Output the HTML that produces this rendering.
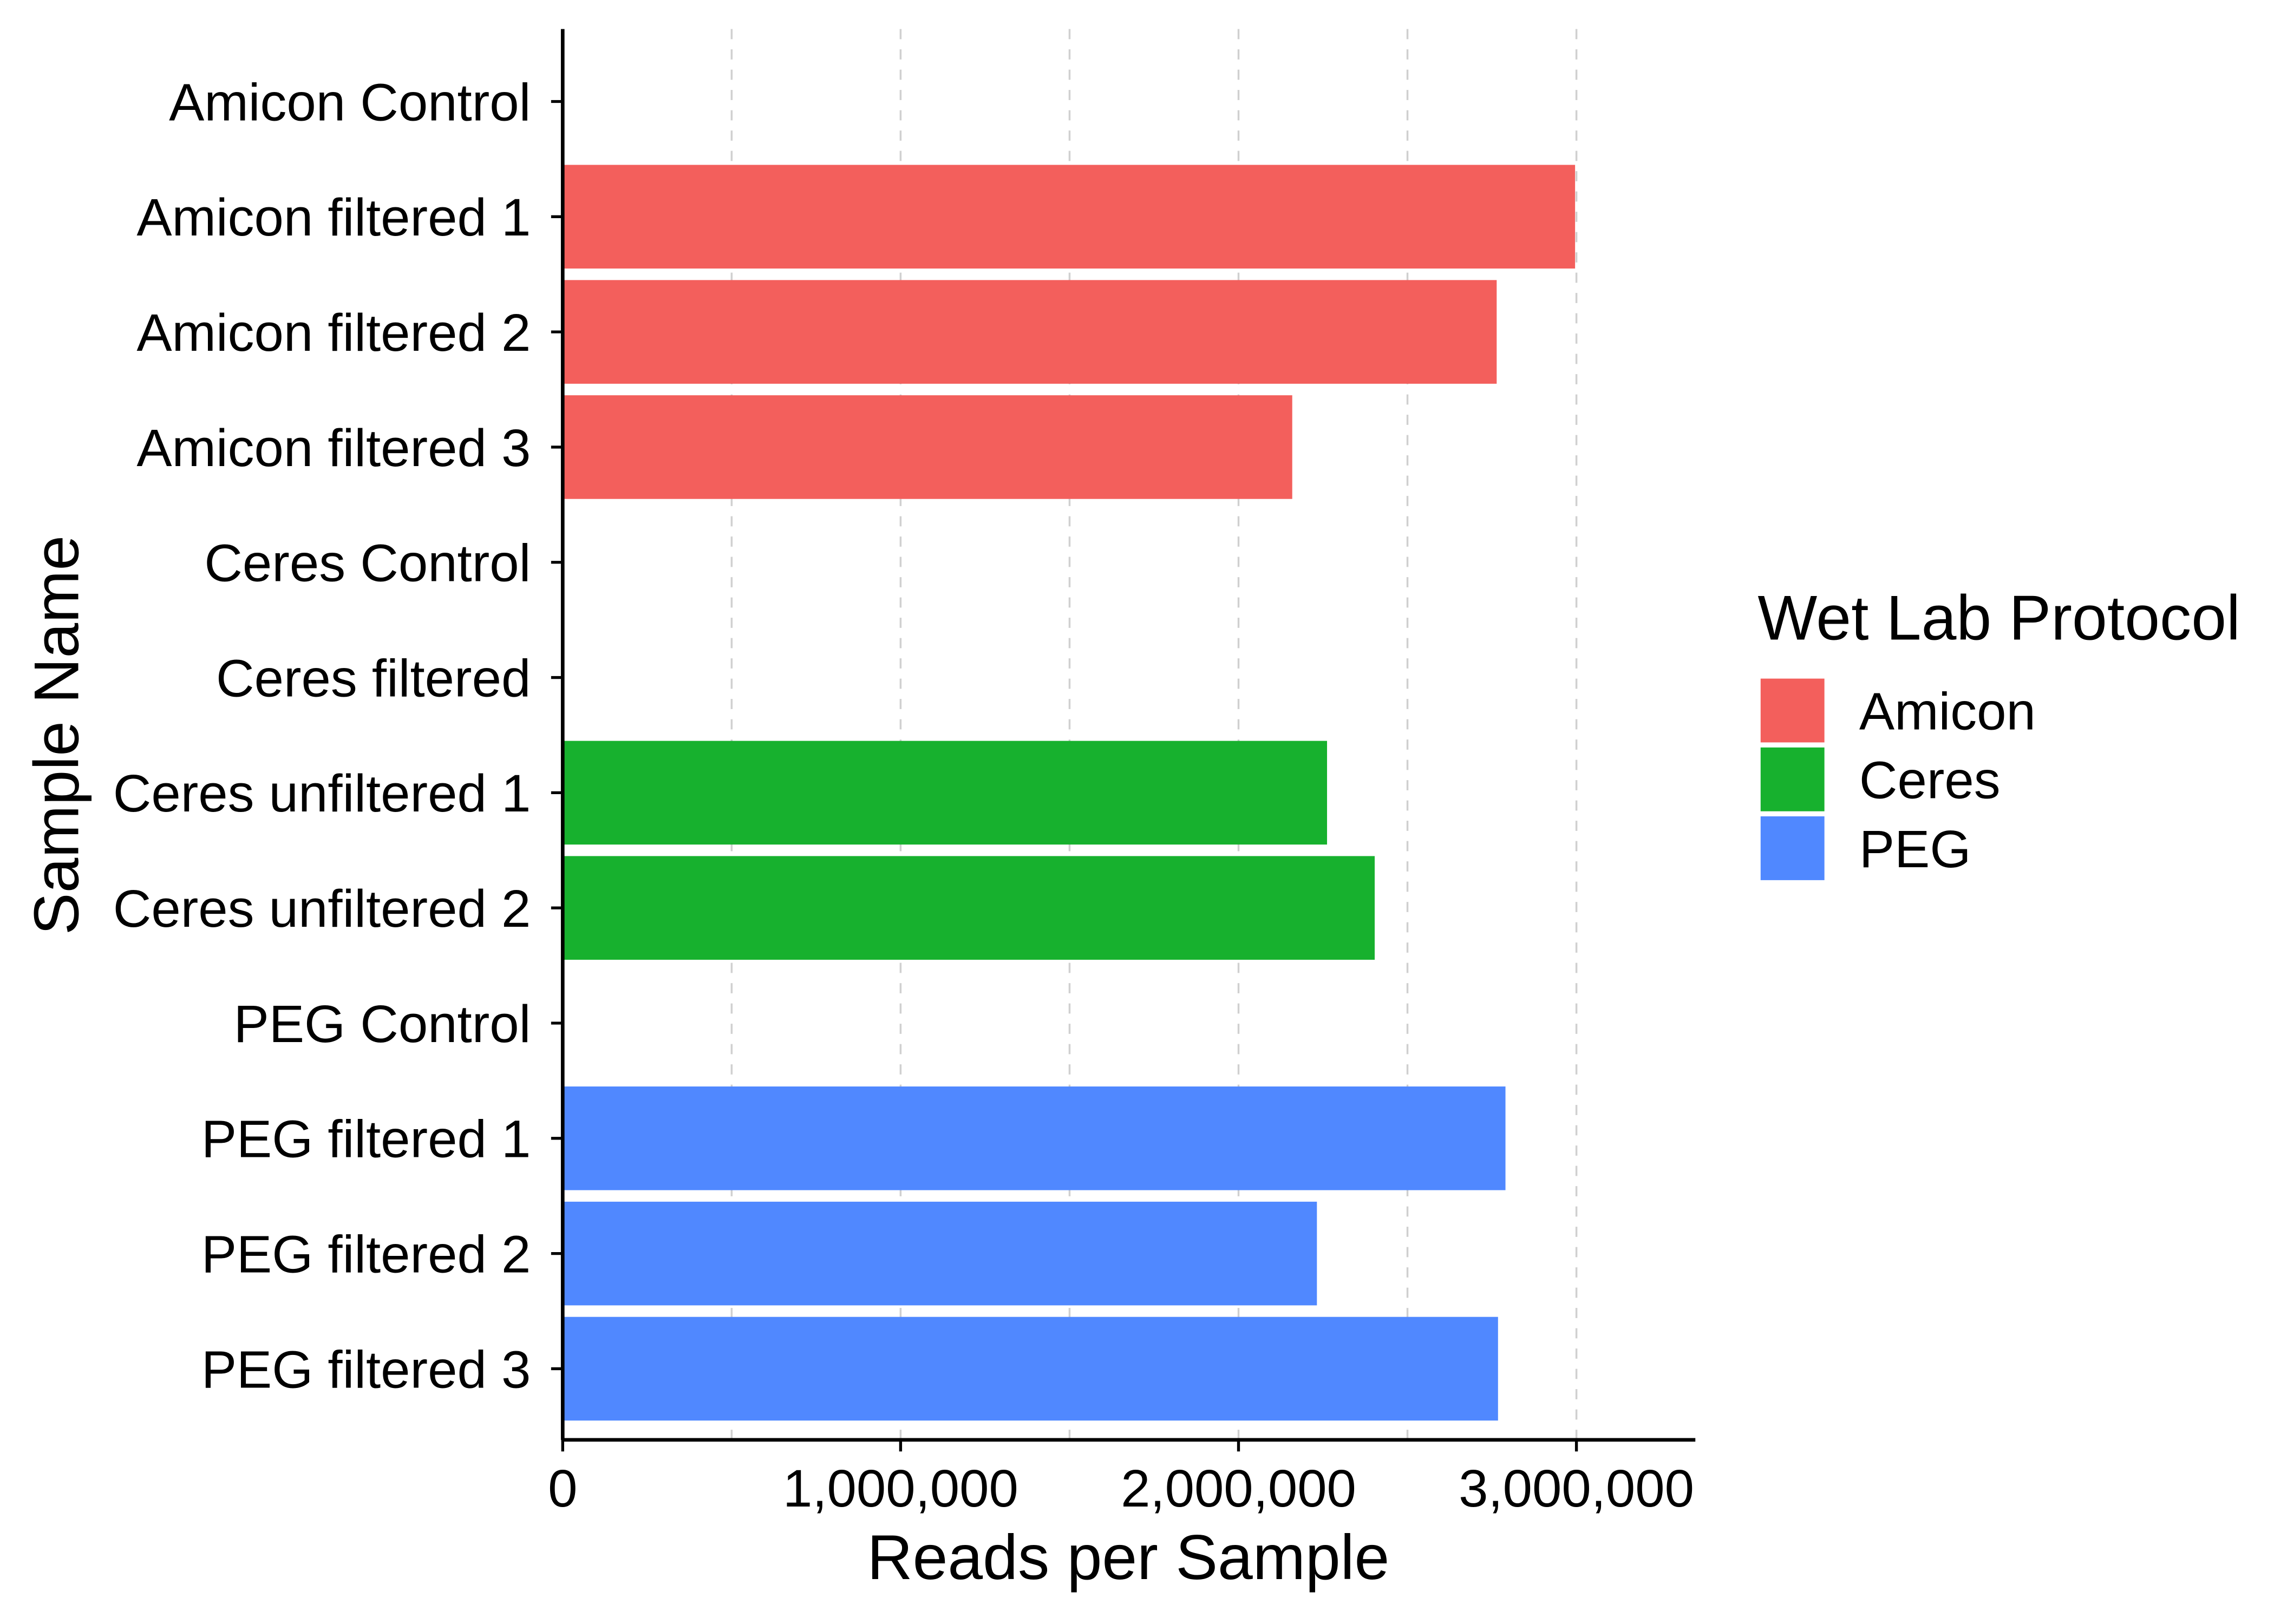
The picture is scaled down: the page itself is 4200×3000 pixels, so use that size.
<!DOCTYPE html>
<html><head><meta charset="utf-8"><style>html,body{margin:0;padding:0;background:#fff}svg{display:block}text{font-family:"Liberation Sans",Arial,sans-serif}</style></head>
<body>
<svg id="chart" width="4200" height="3000" viewBox="0 0 1568 1120" xmlns="http://www.w3.org/2000/svg">
<rect width="1568" height="1120" fill="#fff"/>
<g id="grid"></g><g id="bars"></g><g id="axes"></g><g id="legend"></g>
</svg>
<script>
const categories=["Amicon Control","Amicon filtered 1","Amicon filtered 2","Amicon filtered 3","Ceres Control","Ceres filtered","Ceres unfiltered 1","Ceres unfiltered 2","PEG Control","PEG filtered 1","PEG filtered 2","PEG filtered 3"];
const values=[0,2996000,2764000,2159000,0,0,2262000,2403000,0,2790000,2232000,2768000];
const groups=["Amicon","Amicon","Amicon","Amicon","Ceres","Ceres","Ceres","Ceres","PEG","PEG","PEG","PEG"];
const legendLabels=["Amicon","Ceres","PEG"];
const xTicks=[0,1000000,2000000,3000000];
const xTickLabels=["0","1,000,000","2,000,000","3,000,000"];
const gridVals=[500000,1000000,1500000,2000000,2500000,3000000];
const colors={Amicon:"#F35F5C",Ceres:"#17B12E",PEG:"#5088FF"};
const NS="http://www.w3.org/2000/svg";
const x0=388,pxPer=233/1e6,yTop=20,yBot=993,rowStep=79.45,row0=70,bh=71.5;
const X=v=>x0+v*pxPer, Y=i=>row0+i*rowStep;
function mk(p,t,a){const e=document.createElementNS(NS,t);for(const k in a)e.setAttribute(k,a[k]);p.appendChild(e);return e;}
const grid=document.getElementById('grid'),bars=document.getElementById('bars'),axes=document.getElementById('axes'),leg=document.getElementById('legend');
gridVals.forEach(v=>{const l=mk(grid,'line',{x1:X(v),x2:X(v),y1:yTop,y2:yBot,stroke:"#d0d0d0","stroke-width":1.3,"stroke-dasharray":"7,7"});

});
categories.forEach((c,i)=>{
 if(values[i]>0){const r=mk(bars,'rect',{x:X(0),y:Y(i)-bh/2,width:X(values[i])-X(0),height:bh,fill:colors[groups[i]]});
 
 }
 const t=mk(axes,'text',{x:366,y:Y(i)+13,"text-anchor":"end","font-size":36.5,fill:"#000"});t.textContent=c;
 
 
 mk(axes,'line',{x1:380,x2:388,y1:Y(i),y2:Y(i),stroke:"#000","stroke-width":2});
});
const ya=mk(axes,'line',{x1:388,x2:388,y1:yTop,y2:yBot,stroke:"#000","stroke-width":2.5});


const xa=mk(axes,'line',{x1:387,x2:1169,y1:yBot,y2:yBot,stroke:"#000","stroke-width":2.5});


xTicks.forEach((v,i)=>{mk(axes,'line',{x1:X(v),x2:X(v),y1:yBot,y2:yBot+8,stroke:"#000","stroke-width":2});
 const t=mk(axes,'text',{x:X(v),y:1039,"text-anchor":"middle","font-size":36.5,fill:"#000"});t.textContent=xTickLabels[i];
 
 });
const xt=mk(axes,'text',{x:778,y:1089,"text-anchor":"middle","font-size":43.5,fill:"#000"});xt.textContent="Reads per Sample";


const yt=mk(axes,'text',{x:0,y:0,"text-anchor":"middle","font-size":43.5,fill:"#000",transform:"translate(54,507) rotate(-90)"});yt.textContent="Sample Name";


const lt=mk(leg,'text',{x:1212,y:441,"font-size":43.5,fill:"#000"});lt.textContent="Wet Lab Protocol";


legendLabels.forEach((g,i)=>{const y=468+i*47.5;
 const r=mk(leg,'rect',{x:1214,y:y,width:44,height:44,fill:colors[g]});
 
 
 const t=mk(leg,'text',{x:1282,y:y+35,"font-size":36.5,fill:"#000"});t.textContent=g;
 
 });
</script>
</body></html>
